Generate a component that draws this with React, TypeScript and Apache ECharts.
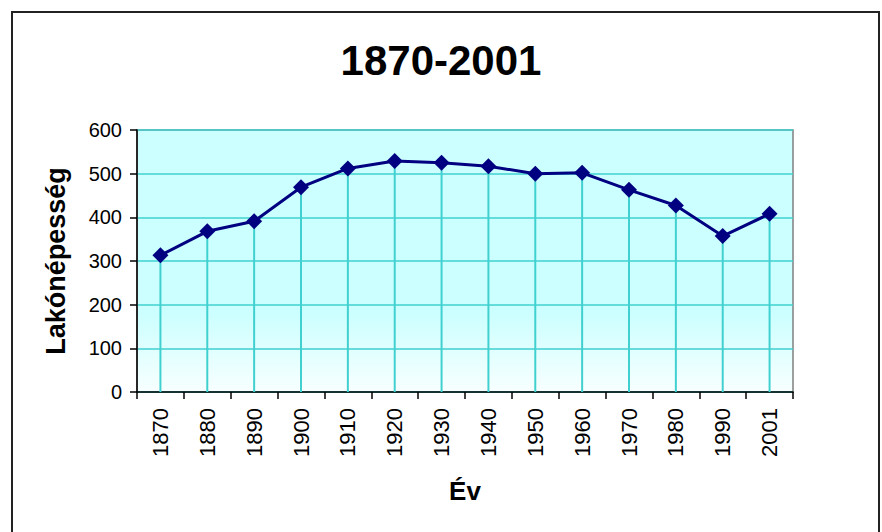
import React, { useEffect, useRef } from "react";
import * as echarts from "echarts";

const years = ["1870", "1880", "1890", "1900", "1910", "1920", "1930", "1940", "1950", "1960", "1970", "1980", "1990", "2001"];
const population = [313, 368, 391, 469, 512, 529, 525, 517, 500, 502, 463, 427, 357, 408];
const yTicks = { min: 0, max: 600, interval: 100 };
const titleText = "1870-2001";
const yName = "Lakónépesség";
const xName = "Év";

const FONT = "'Liberation Sans', Arial, sans-serif";
const GRID_CYAN = "#40d0d0";

export default function App() {
  const ref = useRef<HTMLDivElement>(null);
  useEffect(() => {
    if (!ref.current) return;
    const chart = echarts.init(ref.current, undefined, { renderer: "svg" });
    chart.setOption({
      animation: false,
      backgroundColor: "#ffffff",
      textStyle: { fontFamily: FONT },
      title: {
        text: titleText,
        left: "center",
        top: 34,
        textStyle: { fontSize: 42, fontWeight: "bold", color: "#000", fontFamily: FONT },
      },
      graphic: [
        {
          type: "rect",
          shape: { x: 12, y: 12, width: 867, height: 540 },
          style: { fill: "none", stroke: "#222", lineWidth: 2 },
          z: 100,
          silent: true,
        },
      ],
      grid: {
        left: 137,
        top: 130,
        right: 89,
        bottom: 140,
        show: true,
        borderColor: "#808080",
        borderWidth: 1.5,
        backgroundColor: {
          type: "linear",
          x: 0,
          y: 0,
          x2: 0,
          y2: 1,
          colorStops: [
            { offset: 0, color: "#ccffff" },
            { offset: 0.7, color: "#ccffff" },
            { offset: 1, color: "#f8ffff" },
          ],
        },
      },
      xAxis: {
        type: "category",
        data: years,
        boundaryGap: true,
        name: xName,
        nameLocation: "middle",
        nameGap: 86,
        nameTextStyle: { fontSize: 26, fontWeight: "bold", color: "#000", fontFamily: FONT },
        axisLine: { show: true, lineStyle: { color: "#000", width: 1.5 } },
        axisTick: { show: true, interval: 0, length: 7, inside: false, lineStyle: { color: "#000", width: 1.5 } },
        axisLabel: { rotate: 90, interval: 0, fontSize: 22, color: "#000", margin: 16, fontFamily: FONT },
        splitLine: { show: false },
      },
      yAxis: {
        type: "value",
        min: yTicks.min,
        max: yTicks.max,
        interval: yTicks.interval,
        name: yName,
        nameLocation: "middle",
        nameRotate: 90,
        nameGap: 68,
        nameTextStyle: { fontSize: 27, fontWeight: "bold", color: "#000", fontFamily: FONT },
        axisLine: { show: true, lineStyle: { color: "#000", width: 1.5 } },
        axisTick: { show: true, length: 7, inside: false, lineStyle: { color: "#000", width: 1.5 } },
        axisLabel: { fontSize: 20, color: "#000", margin: 15, fontFamily: FONT },
        splitLine: { show: true, lineStyle: { color: GRID_CYAN, width: 1.5 } },
      },
      series: [
        {
          type: "bar",
          data: population,
          barWidth: 2,
          itemStyle: { color: GRID_CYAN },
          silent: true,
          z: 1,
        },
        {
          type: "line",
          data: population,
          symbol: "diamond",
          symbolSize: 16,
          lineStyle: { color: "#000080", width: 3 },
          itemStyle: { color: "#000080" },
          z: 5,
        },
      ],
    });
    return () => chart.dispose();
  }, []);
  return (
    <div
      ref={ref}
      style={{ position: "absolute", left: 0, top: 0, width: 882, height: 532 }}
    />
  );
}
